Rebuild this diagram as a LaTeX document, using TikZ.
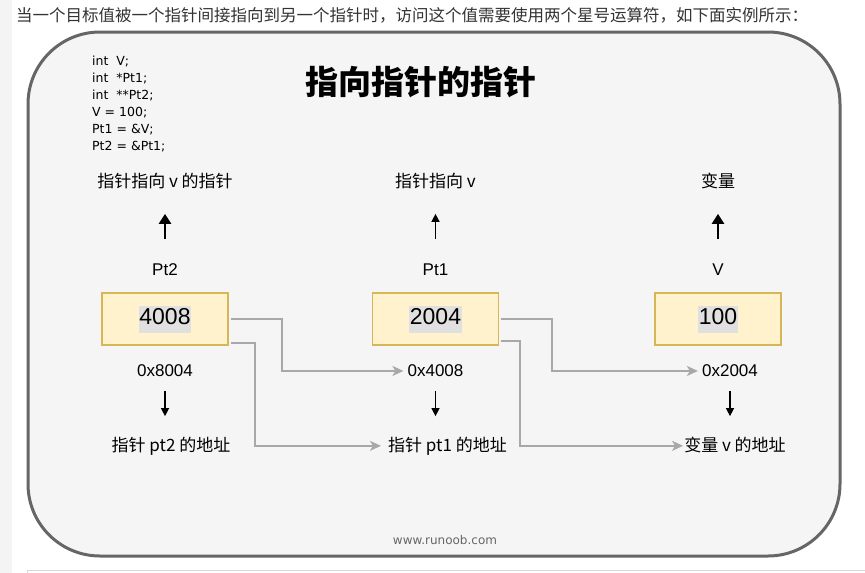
\documentclass[tikz,border=0pt]{standalone}
\usepackage{fontspec}
\setmainfont{Liberation Sans}
\newfontfamily\cjk{Noto Sans CJK SC}
\newfontfamily\handfont{DejaVu Sans}
\usetikzlibrary{
    positioning,
    arrows.meta,
    calc
}

\definecolor{boxfill}{HTML}{FFF2CC}
\definecolor{boxedge}{HTML}{D6B656}
\definecolor{linkgray}{HTML}{A8A8A8}
\definecolor{framegray}{HTML}{666666}
\definecolor{panelgray}{HTML}{F5F5F5}
\definecolor{selgray}{HTML}{E0E0E0}
\definecolor{introtext}{HTML}{333333}
\definecolor{stripgray}{HTML}{F4F4F4}

\newcommand{\selmark}[1]{{\setlength\fboxsep{0.5pt}\colorbox{selgray}{\strut #1}}}

\begin{document}
\begin{tikzpicture}[
    x=1pt, y=-1pt,
    cell/.style={
        draw=boxedge, fill=boxfill, line width=1.5pt, minimum width=126pt,
        minimum height=52pt, align=center, font=\fontsize{23}{26}\selectfont
    },
    tag/.style={
        inner sep=0pt, text height=12pt, text depth=0pt,
        font=\fontsize{17}{17}\selectfont
    },
    note/.style={
        inner sep=0pt, text height=13pt, text depth=2pt,
        font=\cjk\fontsize{17}{17}\selectfont
    },
    code/.style={
        inner sep=0pt, align=left, font=\handfont\fontsize{12.5}{17}\selectfont
    },
    up/.style={-{Triangle[length=10pt,width=12pt]}, line width=2.6pt},
    upthin/.style={-{Triangle[length=8pt,width=8pt]}, line width=1.4pt},
    down/.style={-{Triangle[length=8pt,width=8pt]}, line width=1.3pt},
    link/.style={-{Stealth[length=11pt,width=10pt,inset=3pt]}, draw=linkgray, line width=1.8pt}
]

% ============================== PAGE ==============================
\useasboundingbox (0,0) rectangle (865,573);
\fill[white] (0,0) rectangle (865,573);
\fill[stripgray] (0,0) rectangle (12,573);
\draw[gray!30] (27,580) |- (865,570);

\node[anchor=west, inner sep=0pt, text=introtext, font=\cjk\fontsize{16.5}{16.5}\selectfont] (intro) at (16,15)
    {当一个目标值被一个指针间接指向到另一个指针时，访问这个值需要使用两个星号运算符，如下面实例所示：};

% Panel
\draw[framegray, fill=panelgray, line width=3pt, rounded corners=72pt] (28,32) rectangle (840,556);

% ============================== HEADER ==============================
\node[font=\cjk\bfseries\fontsize{33}{33}\selectfont] (title) at (421,82) {指向指针的指针};
\node[code, anchor=north west] (decls) at (92,56)
    {int\ \ V;\\int\ \ *Pt1;\\int\ \ **Pt2;\\V = 100;\\Pt1 = \&V;\\Pt2 = \&Pt1;};

% ============================== CELLS ==============================
\node[cell] (val_pt2) at (165,319) {\selmark{4008}};
\node[cell, right=143pt of val_pt2] (val_pt1) {\selmark{2004}};
\node[cell, right=155pt of val_pt1] (val_v) {\selmark{100}};

% Names and meaning above the cells
\node[tag, above=17pt of val_pt2] (var_pt2) {Pt2};
\node[tag, above=17pt of val_pt1] (var_pt1) {Pt1};
\node[tag, above=17pt of val_v] (var_v) {V};

\node[note, above=73pt of var_pt2] (desc_pt2) {指针指向 v 的指针};
\node[note, above=73pt of var_pt1] (desc_pt1) {指针指向 v};
\node[note, above=73pt of var_v] (desc_v) {变量};

\draw[up, shorten <=24pt, shorten >=24pt] (var_pt2.north) -- (desc_pt2.south);
\draw[upthin, shorten <=24pt, shorten >=24pt] (var_pt1.north) -- (desc_pt1.south);
\draw[up, shorten <=24pt, shorten >=24pt] (var_v.north) -- (desc_v.south);

% Addresses below the cells
\node[tag, below=19pt of val_pt2] (addr_pt2) {0x8004};
\node[tag, below=19pt of val_pt1] (addr_pt1) {0x4008};
\node[tag, below=19pt of val_v, xshift=12pt] (addr_v) {0x2004};

\node[note, below=61pt of addr_pt2, xshift=6pt] (name_pt2) {指针 pt2 的地址};
\node[note, below=61pt of addr_pt1, xshift=12pt] (name_pt1) {指针 pt1 的地址};
\node[note, below=61pt of addr_v, xshift=5pt] (name_v) {变量 v 的地址};

\draw[down, shorten <=14pt, shorten >=22pt] (addr_pt2.south) -- (addr_pt2.south |- name_pt2.north);
\draw[down, shorten <=14pt, shorten >=22pt] (addr_pt1.south) -- (addr_pt1.south |- name_pt1.north);
\draw[down, shorten <=14pt, shorten >=22pt] (addr_v.south) -- (addr_v.south |- name_v.north);

% ============================== POINTER LINKS ==============================
\draw[link, shorten >=4pt] ($(val_pt2.east)+(2,0)$) -- ++(51,0) |- (addr_pt1.west);
\draw[link, shorten >=7pt] ($(val_pt2.south east)+(2,-3)$) -- ++(24,0) |- (name_pt1.west);
\draw[link, shorten >=4pt] ($(val_pt1.east)+(2,0)$) -- ++(51,0) |- (addr_v.west);
\draw[link, shorten >=1pt] ($(val_pt1.south east)+(2,-5)$) -- ++(19,0) |- (name_v.west);

% Footer
\node[text=framegray, font=\handfont\fontsize{12}{12}\selectfont] (site) at (445,540) {www.runoob.com};

\end{tikzpicture}
\end{document}
